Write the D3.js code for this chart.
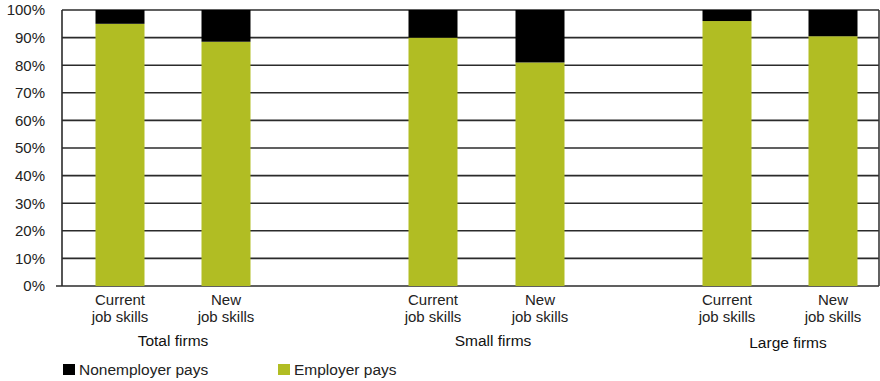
<!DOCTYPE html>
<html>
<head>
<meta charset="utf-8">
<script src="https://cdn.jsdelivr.net/npm/d3@7"></script>
<style>
  html, body { margin: 0; padding: 0; background: #fff; }
  svg { display: block; font-family: "Liberation Sans", Arial, sans-serif; }
</style>
</head>
<body>
<svg id="chart" width="880" height="381"></svg>
<script>
// Who pays for training, by firm size and skill type (share of firms, %)
const groups = ["Total firms", "Small firms", "Large firms"];
const skillTypes = ["Current job skills", "New job skills"];
const employerPays = [95, 88.5, 90, 81, 96, 90.5];
const nonemployerPays = employerPays.map(v => 100 - v);
const yTicks = [0, 10, 20, 30, 40, 50, 60, 70, 80, 90, 100];

const colors = { nonemployer: "#000000", employer: "#b1bd23" };

const svg = d3.select("#chart");
const plotLeft = 62, plotRight = 879, plotTop = 10, plotBottom = 286;

const y = d3.scaleLinear().domain([0, 100]).range([plotBottom, plotTop]);

// Bar slots: two bars per group, wider spacing between groups
const slots = [];
groups.forEach((g, gi) => skillTypes.forEach((s, si) => slots.push({ id: gi * 2 + si, group: g, skill: s })));
const slotCenter = d3.scaleOrdinal()
  .domain(slots.map(d => d.id))
  .range([120, 226, 433, 540, 727, 833]);
const barW = 49;

const rows = slots.map((d, i) => ({ ...d, employer: employerPays[i], nonemployer: nonemployerPays[i] }));
const stack = d3.stack().keys(["employer", "nonemployer"]);
const layers = stack(rows);

// Gridlines
const gridG = svg.append("g");
gridG.selectAll("line").data(yTicks).join("line")
  .attr("x1", d => d === 0 ? 56 : plotLeft).attr("x2", plotRight)
  .attr("y1", d => y(d)).attr("y2", d => y(d))
  .attr("stroke", "#2b2b2b").attr("stroke-width", 1.6);

// Bars
svg.append("g").selectAll("g").data(layers).join("g")
  .attr("fill", d => colors[d.key])
  .selectAll("rect").data(d => d).join("rect")
  .attr("x", d => slotCenter(d.data.id) - barW / 2)
  .attr("width", barW)
  .attr("y", d => y(d[1]))
  .attr("height", d => y(d[0]) - y(d[1]));

// Axis lines
svg.append("line").attr("x1", plotLeft).attr("x2", plotLeft).attr("y1", plotTop).attr("y2", plotBottom)
  .attr("stroke", "#2b2b2b").attr("stroke-width", 1.6);
svg.append("line").attr("x1", plotRight).attr("x2", plotRight).attr("y1", plotTop).attr("y2", plotBottom)
  .attr("stroke", "#3a3a3a").attr("stroke-width", 1.6);

// Y tick labels
const yAxis = d3.axisLeft(y).tickValues(yTicks).tickFormat(d => d + "%").tickSize(0).tickPadding(17);
const yg = svg.append("g").attr("transform", `translate(${plotLeft},0)`).call(yAxis);
yg.select(".domain").remove();
yg.selectAll("text").attr("font-size", 15).attr("fill", "#222")
  .attr("font-family", "'Liberation Sans', Arial, sans-serif");

// Category labels (two lines each)
const catG = svg.append("g").attr("font-size", 15).attr("fill", "#222").attr("text-anchor", "middle");
rows.forEach(d => {
  const words = d.skill.split(" ");
  const t = catG.append("text").attr("x", slotCenter(d.id)).attr("y", 305);
  t.append("tspan").attr("x", slotCenter(d.id)).attr("dy", 0).text(words[0]);
  t.append("tspan").attr("x", slotCenter(d.id)).attr("dy", 16.5).text(words.slice(1).join(" "));
});

// Group labels
const groupX = [173, 493, 788];
const groupY = [346, 346, 348];
svg.append("g").attr("font-size", 15.5).attr("fill", "#111").attr("text-anchor", "middle")
  .selectAll("text").data(groups).join("text")
  .attr("x", (d, i) => groupX[i]).attr("y", (d, i) => groupY[i]).text(d => d);

// Legend
const legend = [
  { label: "Nonemployer pays", color: colors.nonemployer, x: 63 },
  { label: "Employer pays", color: colors.employer, x: 278 }
];
const lg = svg.append("g").selectAll("g").data(legend).join("g")
  .attr("transform", d => `translate(${d.x},364)`);
lg.append("rect").attr("width", 12).attr("height", 11).attr("fill", d => d.color);
lg.append("text").attr("x", 16).attr("y", 11).attr("font-size", 15.5).attr("fill", "#222").text(d => d.label);
</script>
</body>
</html>
